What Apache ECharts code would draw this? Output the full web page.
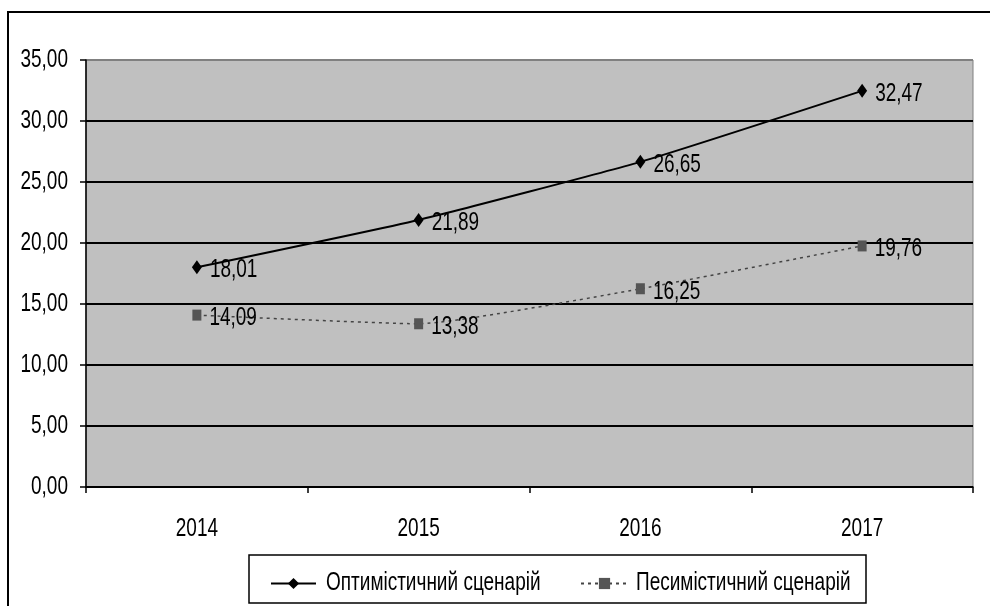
<!DOCTYPE html>
<html><head><meta charset="utf-8">
<script src="https://cdn.jsdelivr.net/npm/echarts@6/dist/echarts.min.js"></script>
<style>html,body{margin:0;padding:0;background:#fff}#c{width:990px;height:606px}</style>
</head><body><div id="c"></div>
<script>
var years = ['2014', '2015', '2016', '2017'];
var optimistic = [18.01, 21.89, 26.65, 32.47];
var pessimistic = [14.09, 13.38, 16.25, 19.76];
var seriesNames = ['Оптимістичний сценарій', 'Песимістичний сценарій'];

var FONT = '"Liberation Sans", Arial, sans-serif';
var FS = 25;
var SCALE_X = 0.76;
function fmt(v){ return v.toFixed(2).replace('.', ','); }

var chart = echarts.init(document.getElementById('c'), null, {renderer:'canvas'});
chart.setOption({
  animation: false,
  backgroundColor: '#fff',
  graphic: [{
    type: 'rect', shape: {x: 8, y: 12, width: 1000, height: 620},
    style: {fill: 'none', stroke: '#000', lineWidth: 2}, z: 0
  }, {
    type: 'rect', shape: {x: 249, y: 555, width: 617, height: 48},
    style: {fill: '#fff', stroke: '#000', lineWidth: 1.5}, z: 1
  }],
  grid: {left: 86, top: 60, right: 17, bottom: 119, show: true,
    backgroundColor: '#C0C0C0', borderColor: '#808080', borderWidth: 1},
  legend: [{
    left: 270, top: 571, itemWidth: 45, itemHeight: 14, padding: 0, z: 5,
    textStyle: {fontFamily: FONT, fontSize: FS, color: '#000', padding: [0,0,0,5]},
    data: [seriesNames[0]]
  }, {
    left: 580, top: 571, itemWidth: 47, itemHeight: 14, padding: 0, z: 5,
    textStyle: {fontFamily: FONT, fontSize: FS, color: '#000', padding: [0,0,0,3]},
    data: [seriesNames[1]]
  }],
  xAxis: {
    type: 'category', data: years, boundaryGap: true,
    axisLine: {lineStyle: {color: '#000', width: 1.5}},
    axisTick: {show: true, length: 6, alignWithLabel: false, lineStyle: {color: '#000', width: 1.5}},
    axisLabel: {fontFamily: FONT, fontSize: FS, color: '#000', margin: 30}
  },
  yAxis: {
    type: 'value', min: 0, max: 35, interval: 5,
    axisLine: {show: true, lineStyle: {color: '#000', width: 1.5}},
    axisTick: {show: true, length: 6, lineStyle: {color: '#000', width: 1.5}},
    axisLabel: {fontFamily: FONT, fontSize: FS, color: '#000', margin: 18, formatter: function(v){return fmt(v);}},
    splitLine: {show: true, lineStyle: {color: ['#000','#000','#000','#000','#000','#000','#000','#808080'], width: 2}}
  },
  series: [{
    name: seriesNames[0], type: 'line', data: optimistic, smooth: 0.15,
    symbol: 'diamond', symbolSize: [10, 14], showAllSymbol: true,
    lineStyle: {color: '#000', width: 2},
    itemStyle: {color: '#000'},
    label: {show: true, position: 'right', distance: 8, offset: [0, 3], fontFamily: FONT, fontSize: FS, color: '#000',
      formatter: function(p){return fmt(p.value);}},
    z: 3
  }, {
    name: seriesNames[1], type: 'line', data: pessimistic, smooth: 0.15,
    symbol: 'rect', symbolSize: [9, 11],
    lineStyle: {color: '#444', width: 1.5, type: [3, 4]},
    itemStyle: {color: '#555'},
    label: {show: true, position: 'right', distance: 8, offset: [0, 3], fontFamily: FONT, fontSize: FS, color: '#000',
      formatter: function(p){return fmt(p.value);}},
    z: 3
  }]
});

// Condense text horizontally (emulates the narrow typeface of the original)
function condense(){
  var zr = chart.getZr();
  var list = zr.storage.getDisplayList(true);
  list.forEach(function(el){
    if (el.type === 'tspan' && el.style && el.style.text != null) {
      el.originX = el.style.x || 0;
      el.originY = el.style.y || 0;
      el.scaleX = SCALE_X;
      el.markRedraw();
    }
  });
  zr.refreshImmediately();
}
condense();
setTimeout(condense, 30);
</script></body></html>
